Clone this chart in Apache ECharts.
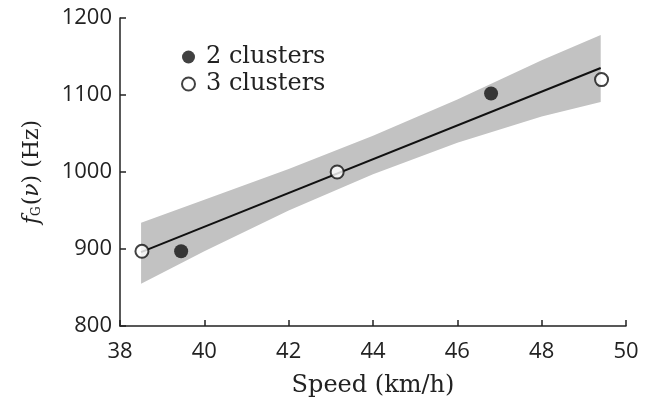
<!DOCTYPE html>
<html>
<head>
<meta charset="utf-8">
<script src="https://cdn.jsdelivr.net/npm/echarts@6/dist/echarts.min.js"></script>
<style>
  html, body { margin: 0; padding: 0; background: #fff; }
  #chart { width: 659px; height: 403px; }
</style>
</head>
<body>
<div id="chart"></div>
<script>
// points
const twoClusters = [[39.45, 897], [46.8, 1102]];
const threeClusters = [[38.52, 897], [43.15, 1000], [49.42, 1120]];

// fitted line, end points
const fitLine = [[38.5, 896], [49.4, 1135]];

// shaded band, read at a few speeds
const bandSpeed = [38.5, 40, 42, 44, 46, 48, 49.4];
const bandLower = [855, 897, 950, 997, 1038, 1072, 1091];
const bandUpper = [934, 964, 1004, 1047, 1094, 1145, 1178];

const xTicks = [38, 40, 42, 44, 46, 48, 50];
const yTicks = [800, 900, 1000, 1100, 1200];

const chartDom = document.getElementById('chart');
const myChart = echarts.init(chartDom);

const serif = '"DejaVu Serif", serif';
const sans = '"Open Sans", sans-serif';

// band polygon: upper edge left->right, then lower edge right->left
function renderBand(params, api) {
    if (params.dataIndex !== 0) return null;
    const pts = [];
    for (let i = 0; i < bandSpeed.length; i++) {
        pts.push(api.coord([bandSpeed[i], bandUpper[i]]));
    }
    for (let i = bandSpeed.length - 1; i >= 0; i--) {
        pts.push(api.coord([bandSpeed[i], bandLower[i]]));
    }
    return {
        type: 'polygon',
        shape: { points: pts },
        style: { fill: '#c2c2c2' }
    };
}

const option = {
    animation: false,
    grid: { left: 120, right: 33, top: 18, bottom: 77 },
    legend: {
        orient: 'vertical',
        left: 176,
        top: 40,
        itemWidth: 13,
        itemHeight: 13,
        itemGap: 3,
        data: ['2 clusters', '3 clusters'],
        textStyle: { fontFamily: serif, fontSize: 24, color: '#222', padding: [0, 0, 0, 6] }
    },
    xAxis: {
        type: 'value',
        min: xTicks[0],
        max: xTicks[xTicks.length - 1],
        interval: 2,
        name: 'Speed (km/h)',
        nameLocation: 'middle',
        nameGap: 48,
        nameTextStyle: { fontFamily: serif, fontSize: 24, color: '#222' },
        axisLine: { lineStyle: { color: '#222', width: 1.5 } },
        axisTick: { inside: true, length: 6, lineStyle: { color: '#222', width: 1.5 } },
        axisLabel: { fontFamily: sans, fontSize: 22, color: '#222', margin: 15 },
        splitLine: { show: false }
    },
    yAxis: {
        type: 'value',
        min: yTicks[0],
        max: yTicks[yTicks.length - 1],
        interval: 100,
        name: '{i|f}{s|G}{n|(}{i|ν}{n|) (Hz)}',
        nameLocation: 'middle',
        nameRotate: 90,
        nameGap: 77,
        nameTextStyle: {
            rich: {
                i: { fontFamily: serif, fontStyle: 'italic', fontSize: 22, color: '#222' },
                s: { fontFamily: serif, fontSize: 12, color: '#222', verticalAlign: 'bottom', padding: [10, 1, 0, 0] },
                n: { fontFamily: serif, fontSize: 22, color: '#222' }
            }
        },
        axisLine: { lineStyle: { color: '#222', width: 1.5 } },
        axisTick: { inside: true, length: 6, lineStyle: { color: '#222', width: 1.5 } },
        axisLabel: {
            fontFamily: sans, fontSize: 22, color: '#222', margin: 8,
            formatter: (v) => String(v)
        },
        splitLine: { show: false }
    },
    series: [
        {
            name: 'band',
            type: 'custom',
            renderItem: renderBand,
            data: bandSpeed.map((s, i) => [s, bandLower[i], bandUpper[i]]),
            encode: { x: 0, y: [1, 2] },
            silent: true,
            z: 1
        },
        {
            name: 'fit',
            type: 'line',
            data: fitLine,
            symbol: 'none',
            lineStyle: { color: '#111', width: 2 },
            z: 2
        },
        {
            name: '2 clusters',
            type: 'scatter',
            data: twoClusters,
            symbol: 'circle',
            symbolSize: 14,
            itemStyle: { color: '#111', borderColor: '#111', borderWidth: 0 },
            z: 3
        },
        {
            name: '3 clusters',
            type: 'scatter',
            data: threeClusters,
            symbol: 'circle',
            symbolSize: 13,
            itemStyle: { color: '#fff', borderColor: '#111', borderWidth: 2 },
            z: 3
        }
    ]
};

myChart.setOption(option);
</script>
</body>
</html>
